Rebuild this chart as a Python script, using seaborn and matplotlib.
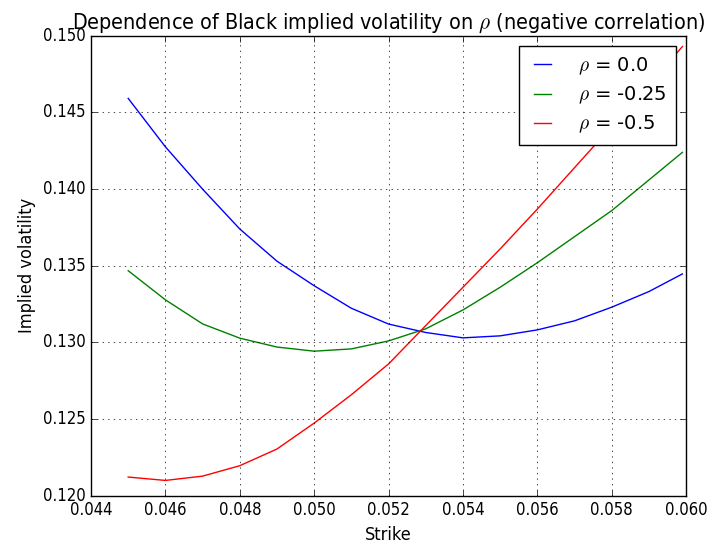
import matplotlib
matplotlib.use('Agg')
import matplotlib.pyplot as plt
import seaborn as sns
import pandas as pd
from matplotlib.ticker import MultipleLocator, FormatStrFormatter

# Values
strikes = [0.045, 0.046, 0.047, 0.048, 0.049, 0.050, 0.051, 0.052,
           0.053, 0.054, 0.055, 0.056, 0.057, 0.058, 0.059, 0.0599]
vol_rho_0 = [0.14592, 0.14276, 0.1400, 0.1374, 0.1353, 0.1337, 0.13223, 0.1312,
             0.13065, 0.1303, 0.13043, 0.13082, 0.13141, 0.1323, 0.13332, 0.13447]
vol_rho_m025 = [0.13468, 0.13278, 0.13121, 0.13028, 0.1297, 0.12943, 0.12958, 0.1301,
                0.13089, 0.13212, 0.1336, 0.1352, 0.1369, 0.1386, 0.1406, 0.1424]
vol_rho_m05 = [0.12122, 0.1210, 0.12128, 0.12196, 0.12305, 0.12474, 0.12659, 0.1286,
               0.1311, 0.1336, 0.1361, 0.1387, 0.1414, 0.1441, 0.1468, 0.1493]
series_labels = [r'$\rho$ = 0.0', r'$\rho$ = -0.25', r'$\rho$ = -0.5']
series_colors = ['#0000ff', '#008000', '#ff0000']

plt.style.use('classic')
plt.rcParams['font.family'] = ['DejaVu Sans']
plt.rcParams['font.stretch'] = 'condensed'
plt.rcParams['figure.facecolor'] = 'white'

fig, ax = plt.subplots(figsize=(7.11, 5.43), dpi=100)
fig.subplots_adjust(left=0.128, right=0.965, top=0.934, bottom=0.087)

for vals, lab, col in zip([vol_rho_0, vol_rho_m025, vol_rho_m05], series_labels, series_colors):
    df = pd.DataFrame({"strike": strikes, "vol": vals})
    sns.lineplot(data=df, x="strike", y="vol", color=col, label=lab,
                 linewidth=1.0, estimator=None, sort=False, ax=ax)

ax.set_xlim(0.044, 0.060)
ax.set_ylim(0.120, 0.150)
ax.xaxis.set_major_locator(MultipleLocator(0.002))
ax.yaxis.set_major_locator(MultipleLocator(0.005))
ax.xaxis.set_major_formatter(FormatStrFormatter('%.3f'))
ax.yaxis.set_major_formatter(FormatStrFormatter('%.3f'))
ax.tick_params(labelsize=12, direction='in', top=True, right=True)
ax.grid(True, color='black', linestyle=':', linewidth=0.5)

ax.set_xlabel("Strike", fontsize=13)
ax.set_ylabel("Implied volatility", fontsize=13)
ax.set_title(r"Dependence of Black implied volatility on $\rho$ (negative correlation)", fontsize=15.4)

ax.legend(loc='upper right', prop={'family': 'DejaVu Sans', 'stretch': 'normal', 'size': 14},
          fancybox=False, frameon=True, edgecolor='black', handlelength=1.45,
          handletextpad=1.1, labelspacing=0.4, borderpad=0.5)

plt.savefig("out.png", dpi=100, facecolor='white')
plt.close()
